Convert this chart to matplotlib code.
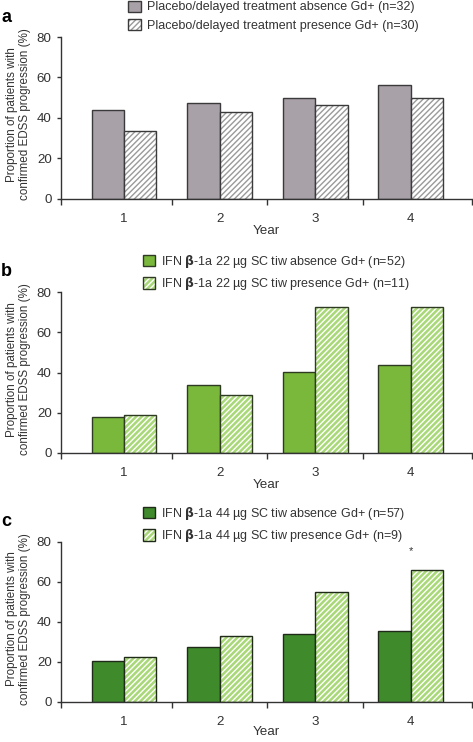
import matplotlib
matplotlib.use("Agg")
import matplotlib.pyplot as plt
import numpy as np

plt.rcParams['font.family'] = ['Liberation Sans', 'DejaVu Sans']
plt.rcParams['hatch.linewidth'] = 1.0

years = ["1", "2", "3", "4"]

placebo_absence = [44.0, 47.2, 50.0, 56.1]
placebo_presence = [33.5, 42.9, 46.2, 49.7]

ifn22_absence = [18.0, 33.8, 40.3, 43.8]
ifn22_presence = [18.6, 28.6, 72.7, 72.7]

ifn44_absence = [20.7, 27.7, 34.2, 35.3]
ifn44_presence = [22.3, 33.0, 54.8, 66.2]

labels_a = ["Placebo/delayed treatment absence Gd+ (n=32)",
            "Placebo/delayed treatment presence Gd+ (n=30)"]
labels_b = ["IFN $\\mathbf{\\beta}$-1a 22 µg SC tiw absence Gd+ (n=52)",
            "IFN $\\mathbf{\\beta}$-1a 22 µg SC tiw presence Gd+ (n=11)"]
labels_c = ["IFN $\\mathbf{\\beta}$-1a 44 µg SC tiw absence Gd+ (n=57)",
            "IFN $\\mathbf{\\beta}$-1a 44 µg SC tiw presence Gd+ (n=9)"]

W, H = 473, 742
fig = plt.figure(figsize=(W / 100, H / 100), dpi=100)

TXT = "#333333"
FS = 9.6
FS_LEG = 9.0
FS_YL = 8.4


def px_axes(left, top, right, bottom):
    return fig.add_axes([left / W, 1 - bottom / H, (right - left) / W, (bottom - top) / H])


def panel(top, bottom, absence, presence, abs_color, pres_face, pres_hatch,
          edge, labels, letter, leg_x, leg_y, letter_y, star=None, xlpad=0):
    ax = px_axes(60.7, top, 472.3, bottom)
    x = np.arange(len(years))
    w = 0.339
    b1 = ax.bar(x - w / 2, absence, w, color=abs_color, edgecolor=edge, linewidth=1.0, zorder=2)
    b2f = ax.bar(x + w / 2, presence, w, color=pres_face, edgecolor=pres_hatch,
                 linewidth=0, hatch="//////", zorder=2)
    b2o = ax.bar(x + w / 2, presence, w, fill=False, edgecolor=edge, linewidth=1.0, zorder=3)
    ax.set_xlim(-0.662, 3.643)
    ax.set_ylim(0, 80)
    ax.set_yticks([0, 20, 40, 60, 80])
    ax.set_xticks(x)
    ax.set_xticklabels(years)
    ax.set_xticks([-0.662, 0.5, 1.5, 2.5, 3.643], minor=True)
    ax.tick_params(axis="x", which="major", length=0, pad=10, labelsize=FS, colors=TXT)
    ax.tick_params(axis="x", which="minor", length=4, width=1, direction="out", color="#333333")
    ax.tick_params(axis="y", length=3, width=1, direction="out", labelsize=FS, colors=TXT, pad=3.5)
    for s in ["top", "right"]:
        ax.spines[s].set_visible(False)
    for s in ["left", "bottom"]:
        ax.spines[s].set_color("#333333")
        ax.spines[s].set_linewidth(1.0)
    ax.set_xlabel("Year", fontsize=FS, color=TXT, labelpad=xlpad)
    ax.set_ylabel("Proportion of patients with\nconfirmed EDSS progression (%)",
                  fontsize=FS_YL, color=TXT, linespacing=1.1)
    ax.yaxis.set_label_coords(-0.072, 0.52)
    if star is not None:
        ax.text(x[star], 75.5, "*", ha="center", va="center", fontsize=8, color=TXT)
    handles = [b1[0], (b2f[0], b2o[0])]
    leg = ax.legend(handles, labels, loc="upper left",
                    bbox_to_anchor=(leg_x / W, 1 - leg_y / H), bbox_transform=fig.transFigure,
                    frameon=False, fontsize=FS_LEG, handlelength=1.0, handleheight=1.0,
                    handletextpad=0.5, labelspacing=0.42, borderpad=0, borderaxespad=0)
    for t in leg.get_texts():
        t.set_color(TXT)
    fig.text(1 / W, 1 - letter_y / H, letter, fontsize=13, fontweight="bold",
             va="center", ha="left", color="black")
    return ax


panel(37, 198.7, placebo_absence, placebo_presence, "#a8a1a8", "white", "#9a9a9a",
      "#3a3a3a", labels_a, "a", 128, 0.5, 17)
panel(292.3, 452.7, ifn22_absence, ifn22_presence, "#79b83a", "#a9d878", "white",
      "#2f3a22", labels_b, "b", 142.7, 253, 271.5)
panel(542, 702, ifn44_absence, ifn44_presence, "#3f8b2c", "#a9d878", "white",
      "#1f2a18", labels_c, "c", 142.7, 505, 521, star=3, xlpad=-1.5)

fig.savefig("out.png", dpi=100)
